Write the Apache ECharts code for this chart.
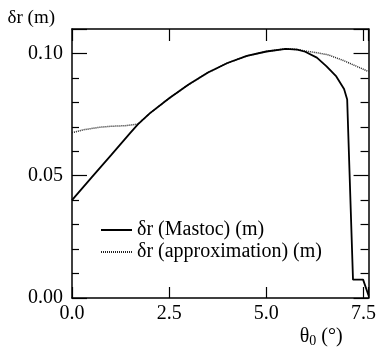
<!DOCTYPE html>
<html>
<head>
<meta charset="utf-8">
<script src="https://cdn.jsdelivr.net/npm/echarts@6/dist/echarts.min.js"></script>
<style>
  html, body { margin: 0; padding: 0; background: #fff; }
  #chart { width: 379px; height: 350px; }
</style>
</head>
<body>
<div id="chart"></div>
<script>
  // theta_0 (deg) and dr (m)
  const thetaMastoc = [0, 0.5, 1.0, 1.5, 1.7, 2.0, 2.5, 3.0, 3.5, 4.0, 4.5, 5.0, 5.5, 5.8, 6.0, 6.3, 6.55, 6.8, 7.0, 7.08, 7.23, 7.49, 7.63];
  const drMastoc = [0.0400, 0.0492, 0.0583, 0.0675, 0.0711, 0.0755, 0.0817, 0.0873, 0.0922, 0.0961, 0.0990, 0.1008, 0.1019, 0.1016, 0.1007, 0.0983, 0.0947, 0.0906, 0.0855, 0.0812, 0.0075, 0.0075, 0.0010];

  const thetaApprox = [0, 0.3, 0.7, 1.0, 1.4, 1.7, 2.0, 2.5, 3.0, 3.5, 4.0, 4.5, 5.0, 5.5, 5.8, 6.0, 6.3, 6.6, 7.0, 7.3, 7.63];
  const drApprox = [0.0676, 0.0688, 0.0698, 0.0702, 0.0705, 0.0711, 0.0755, 0.0817, 0.0873, 0.0922, 0.0961, 0.0990, 0.1008, 0.1019, 0.1016, 0.1010, 0.1003, 0.0994, 0.0970, 0.0949, 0.0926];

  const xTicks = [0, 2.5, 5.0, 7.5];
  const yTicks = [0, 0.05, 0.10];

  const font = 'Liberation Serif';
  const isTick = (v, list) => list.some(t => Math.abs(t - v) < 1e-6);

  let chart = echarts.init(document.getElementById('chart'));

  const frameLine = { show: true, onZero: false, lineStyle: { color: '#000', width: 1.5 } };
  const tickStyle = { color: '#000', width: 1.2 };

  // y axis: major every 0.05, minor every 0.01, same on both sides
  const yAxisBase = (pos, majorLen, minorLen) => ({
    type: 'value',
    position: pos,
    min: 0, max: 0.11, interval: 0.05,
    axisLine: frameLine,
    axisTick: { inside: true, length: majorLen, lineStyle: tickStyle },
    minorTick: { show: true, splitNumber: 5, length: minorLen, lineStyle: tickStyle },
    splitLine: { show: false },
    minorSplitLine: { show: false }
  });

  chart.setOption({
    animation: false,
    backgroundColor: '#fff',
    grid: { left: 72, right: 6, top: 29, bottom: 52 },
    legend: {
      orient: 'vertical',
      left: 95,
      top: 215,
      itemWidth: 31,
      itemHeight: 12,
      itemGap: 2,
      itemStyle: { opacity: 0 },
      data: ['δr (Mastoc) (m)', 'δr (approximation) (m)'],
      textStyle: { fontFamily: font, fontSize: 20, color: '#000' }
    },
    xAxis: [{
      type: 'value',
      position: 'bottom',
      min: 0, max: 7.63, interval: 2.5,
      axisLine: frameLine,
      axisTick: { inside: true, length: 11, lineStyle: tickStyle },
      splitLine: { show: false },
      axisLabel: {
        margin: 6,
        fontFamily: font, fontSize: 20, color: '#000',
        formatter: v => isTick(v, xTicks) ? v.toFixed(1) : ''
      },
      name: '{t|θ}{s|0}{t| (°)}',
      nameLocation: 'end',
      nameGap: 0,
      nameTextStyle: {
        align: 'right', verticalAlign: 'top', padding: [27, 26, 0, 0],
        rich: {
          t: { fontFamily: font, fontSize: 20, color: '#000' },
          s: { fontFamily: font, fontSize: 14, color: '#000', padding: [9, 0, 0, 0] }
        }
      }
    }, {
      type: 'value',
      position: 'top',
      min: 0, max: 7.63, interval: 2.5,
      axisLine: frameLine,
      axisTick: { inside: true, length: 12, lineStyle: tickStyle },
      splitLine: { show: false },
      axisLabel: { show: false }
    }],
    yAxis: [Object.assign(yAxisBase('left', 15, 7), {
      axisLabel: {
        margin: 9,
        fontFamily: font, fontSize: 20, color: '#000',
        formatter: v => isTick(v, yTicks) ? v.toFixed(2) : ''
      },
      name: 'δr (m)',
      nameLocation: 'end',
      nameGap: 1,
      nameTextStyle: { fontFamily: font, fontSize: 19, color: '#000', align: 'right', padding: [0, 17, 0, 0] }
    }), Object.assign(yAxisBase('right', 15, 8), {
      axisLabel: { show: false }
    })],
    series: [{
      name: 'δr (approximation) (m)',
      type: 'line',
      symbol: 'none',
      xAxisIndex: 0, yAxisIndex: 0,
      lineStyle: { color: '#222', width: 1.5, type: [1, 1] },
      itemStyle: { color: '#222' },
      data: thetaApprox.map((t, i) => [t, drApprox[i]])
    }, {
      name: 'δr (Mastoc) (m)',
      type: 'line',
      symbol: 'none',
      xAxisIndex: 0, yAxisIndex: 0,
      lineStyle: { color: '#000', width: 1.8 },
      itemStyle: { color: '#000' },
      data: thetaMastoc.map((t, i) => [t, drMastoc[i]])
    }]
  });
</script>
</body>
</html>
